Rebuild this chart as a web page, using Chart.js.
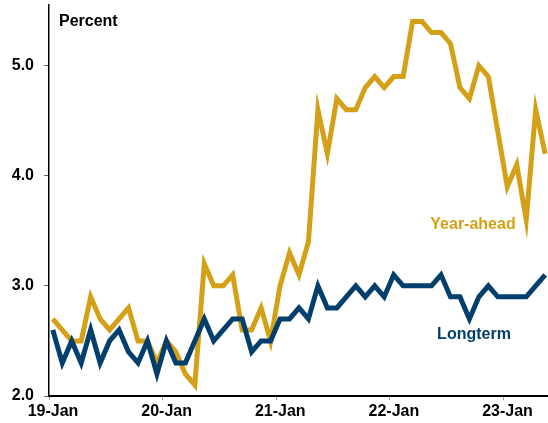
<!DOCTYPE html>
<html>
<head>
<meta charset="utf-8">
<script src="https://cdn.jsdelivr.net/npm/chart.js@4.4.0/dist/chart.umd.min.js"></script>
<style>
  html, body { margin: 0; padding: 0; background: #fff; }
  #wrap { width: 548px; height: 423px; position: relative; }
</style>
</head>
<body>
<div id="wrap"><canvas id="expChart"></canvas></div>
<script>
// monthly survey readings, Jan 2019 through May 2023
var yearAhead = [2.7, 2.6, 2.5, 2.5, 2.9, 2.7, 2.6, 2.7, 2.8, 2.5, 2.5, 2.3,
    2.5, 2.4, 2.2, 2.1, 3.2, 3.0, 3.0, 3.1, 2.6, 2.6, 2.8, 2.5,
    3.0, 3.3, 3.1, 3.4, 4.6, 4.2, 4.7, 4.6, 4.6, 4.8, 4.9, 4.8,
    4.9, 4.9, 5.4, 5.4, 5.3, 5.3, 5.2, 4.8, 4.7, 5.0, 4.9, 4.4,
    3.9, 4.1, 3.6, 4.6, 4.2];
var longTerm = [2.6, 2.3, 2.5, 2.3, 2.6, 2.3, 2.5, 2.6, 2.4, 2.3, 2.5, 2.2,
    2.5, 2.3, 2.3, 2.5, 2.7, 2.5, 2.6, 2.7, 2.7, 2.4, 2.5, 2.5,
    2.7, 2.7, 2.8, 2.7, 3.0, 2.8, 2.8, 2.9, 3.0, 2.9, 3.0, 2.9,
    3.1, 3.0, 3.0, 3.0, 3.0, 3.1, 2.9, 2.9, 2.7, 2.9, 3.0, 2.9,
    2.9, 2.9, 2.9, 3.0, 3.1];
var yearLabels = ['19-Jan', '20-Jan', '21-Jan', '22-Jan', '23-Jan'];
var yTicks = [2, 3, 4, 5];

var gold = '#D4A017';
var navy = '#023F6D';
var font = 'Arial, "Liberation Sans", sans-serif';

function toPoints(arr) {
    return arr.map(function (v, i) { return { x: i, y: v }; });
}

// text labels drawn straight on the canvas
var chartText = {
    id: 'chartText',
    afterDraw: function (chart) {
        var ctx = chart.ctx;
        ctx.save();
        ctx.font = 'bold 16px ' + font;
        ctx.textBaseline = 'alphabetic';
        ctx.fillStyle = '#000';
        ctx.textAlign = 'left';
        ctx.fillText('Percent', 59, 26);
        ctx.textAlign = 'center';
        ctx.fillStyle = gold;
        ctx.fillText('Year-ahead', 473, 229);
        ctx.fillStyle = navy;
        ctx.fillText('Longterm', 474, 339);
        ctx.restore();
    }
};

// no extra room around the plot for the end labels
function noPad(scale) {
    scale.paddingTop = 0;
    scale.paddingBottom = 0;
    scale.paddingLeft = 0;
    scale.paddingRight = 0;
}

var ctx = document.getElementById('expChart').getContext('2d');
var chart = new Chart(ctx, {
    type: 'line',
    data: {
        datasets: [
            { label: 'Longterm', data: toPoints(longTerm), borderColor: navy, borderWidth: 5, pointRadius: 0, tension: 0 },
            { label: 'Year-ahead', data: toPoints(yearAhead), borderColor: gold, borderWidth: 5, pointRadius: 0, tension: 0 }
        ]
    },
    options: {
        responsive: true,
        maintainAspectRatio: false,
        animation: false,
        layout: { padding: { top: 5, right: 0, left: 0, bottom: 0 } },
        plugins: { legend: { display: false }, tooltip: { enabled: false } },
        scales: {
            x: {
                type: 'linear',
                min: -0.4,
                max: 52.3,
                afterBuildTicks: function (scale) {
                    scale.ticks = yearLabels.map(function (l, k) { return { value: -0.4 + 12 * k }; });
                },
                afterFit: function (scale) { scale.height = 27; noPad(scale); },
                grid: { drawOnChartArea: false, drawTicks: true, tickLength: 4, color: '#999' },
                border: { display: true, color: '#000', width: 2 },
                ticks: {
                    padding: 2,
                    labelOffset: 4,
                    maxRotation: 0,
                    autoSkip: false,
                    color: '#000',
                    font: { family: font, size: 16, weight: 'bold' },
                    callback: function (v, i) { return yearLabels[i]; }
                }
            },
            y: {
                min: 2,
                max: 5.55,
                afterBuildTicks: function (scale) {
                    scale.ticks = yTicks.map(function (v) { return { value: v }; });
                },
                afterFit: function (scale) { scale.width = 49; noPad(scale); },
                grid: { drawOnChartArea: false, drawTicks: true, tickLength: 5, color: '#666' },
                border: { display: true, color: '#000', width: 1.5 },
                ticks: {
                    padding: 10,
                    color: '#000',
                    font: { family: font, size: 16, weight: 'bold' },
                    callback: function (v) { return v.toFixed(1); }
                }
            }
        }
    },
    plugins: [chartText]
});
</script>
</body>
</html>
